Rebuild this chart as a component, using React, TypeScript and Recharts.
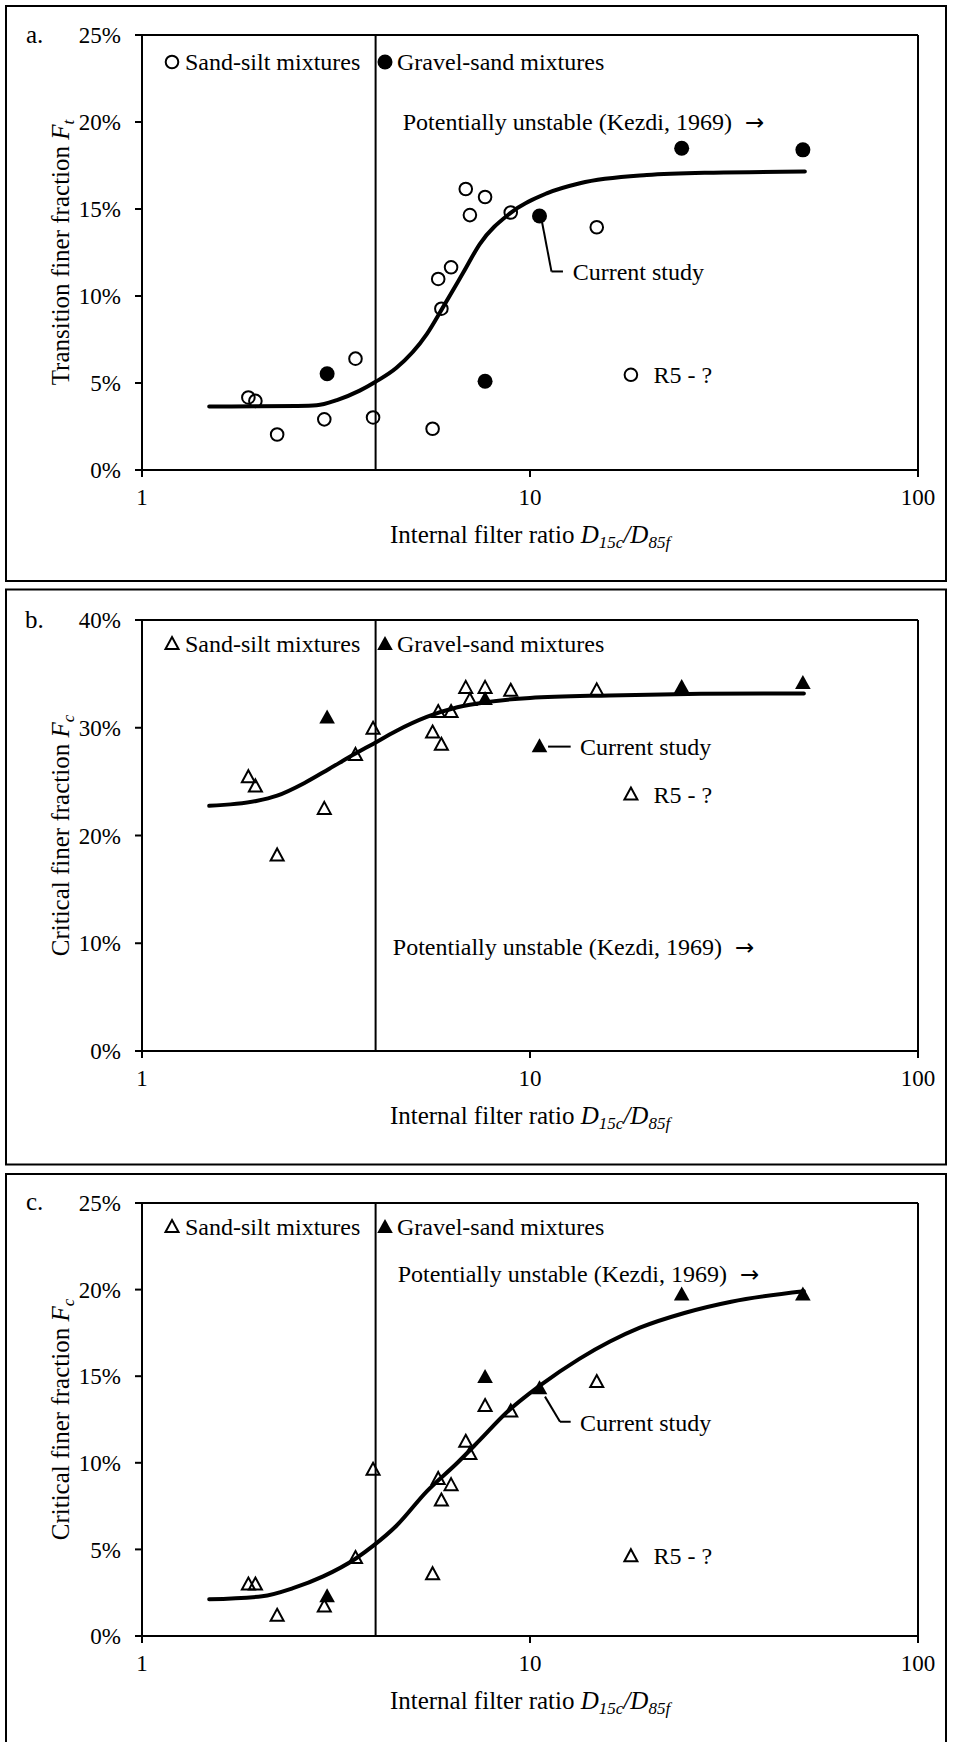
import type { ReactNode } from "react";
import {
  ComposedChart,
  Scatter,
  Line,
  XAxis,
  YAxis,
  ReferenceLine,
  ReferenceDot,
  Legend,
  Label,
} from "recharts";

const FONT = '"Liberation Serif", "Times New Roman", serif';

// internal filter ratio D15c/D85f of each sample
const sandSiltRatio = [1.88, 1.96, 2.23, 2.95, 3.55, 3.94, 5.61, 5.8, 5.91, 6.26, 6.83, 7.0, 7.66, 8.92, 14.86];
const gravelSandRatio = [3.0, 7.66, 10.58, 24.6, 50.5];
const r5Ratio = [18.2];
const kezdiRatio = 4;
const xTicks = [1, 10, 100];

// a. transition finer fraction Ft (%)
const sandSiltFt = [4.17, 3.97, 2.04, 2.91, 6.4, 3.02, 2.37, 10.98, 9.27, 11.65, 16.15, 14.65, 15.69, 14.8, 13.95];
const gravelSandFt = [5.53, 5.1, 14.6, 18.49, 18.4];
const r5Ft = [5.47];
const fitRatioA = [1.49, 2.0, 2.5, 2.82, 3.18, 3.64, 4.0, 4.52, 5.42, 5.98, 6.73, 7.43, 8.88, 11.04, 13.45, 20.0, 29.7, 51.1];
const fitFt = [3.65, 3.66, 3.68, 3.72, 4.02, 4.56, 5.07, 5.86, 7.81, 9.39, 11.35, 13.0, 14.75, 15.9, 16.48, 16.95, 17.09, 17.15];

// b. critical finer fraction Fc (%)
const sandSiltFcB = [25.41, 24.55, 18.15, 22.47, 27.48, 29.9, 29.56, 31.46, 28.42, 31.46, 33.7, 32.57, 33.7, 33.43, 33.47];
const gravelSandFcB = [30.94, 32.67, 28.28, 33.78, 34.16];
const r5FcB = [23.8];
const fitRatioB = [1.49, 1.97, 2.23, 2.63, 3.04, 3.55, 3.94, 4.52, 5.42, 6.5, 7.8, 10.0, 16.0, 27.6, 50.8];
const fitFcB = [22.75, 23.2, 23.7, 24.9, 26.2, 27.6, 28.5, 29.7, 31.0, 31.9, 32.4, 32.77, 33.0, 33.15, 33.19];

// c. critical finer fraction Fc (%)
const sandSiltFcC = [2.97, 2.97, 1.17, 1.7, 4.5, 9.6, 3.57, 9.07, 7.82, 8.71, 11.21, 10.51, 13.28, 12.96, 14.66];
const gravelSandFcC = [2.29, 14.95, 14.3, 19.71, 19.71];
const r5FcC = [4.61];
const fitRatioC = [1.49, 2.04, 2.45, 2.93, 3.55, 3.94, 4.52, 5.42, 6.5, 7.43, 8.7, 10.6, 13.4, 16.07, 19.2, 25.0, 33.0, 50.8];
const fitFcC = [2.12, 2.29, 2.76, 3.44, 4.46, 5.2, 6.35, 8.35, 10.0, 11.32, 12.9, 14.45, 16.0, 17.0, 17.8, 18.65, 19.3, 19.9];

type Pt = { x: number; y: number };
const pairs = (xs: number[], ys: number[]): Pt[] => xs.map((x, i) => ({ x, y: ys[i] }));

type Kind = "circle" | "triangle";

function Marker({ cx, cy, kind, filled }: { cx: number; cy: number; kind: Kind; filled?: boolean }) {
  if (kind === "circle") {
    return filled ? (
      <circle cx={cx} cy={cy} r={7.5} fill="#000" />
    ) : (
      <circle cx={cx} cy={cy} r={6.3} fill="none" stroke="#000" strokeWidth={2} />
    );
  }
  if (filled) {
    return <path d={`M${cx},${cy - 8}L${cx + 7.8},${cy + 6}L${cx - 7.8},${cy + 6}Z`} fill="#000" />;
  }
  return (
    <path
      d={`M${cx},${cy - 7}L${cx + 6.5},${cy + 5}L${cx - 6.5},${cy + 5}Z`}
      fill="none"
      stroke="#000"
      strokeWidth={2}
    />
  );
}

const note = (content: ReactNode, dx = 0) => (props: any) => {
  const vb = props.viewBox ?? { x: 0, y: 0 };
  return (
    <text x={vb.x + dx} y={vb.y} dominantBaseline="central" fontFamily={FONT} fontSize={24} fill="#000">
      {content}
    </text>
  );
};

const kezdiNote = (
  <>
    Potentially unstable (Kezdi, 1969)
    <tspan dx={13} fontFamily='"DejaVu Sans", sans-serif' fontSize={23}>
      {"\u2192"}
    </tspan>
  </>
);

const yTitle = (main: string, sub: string) => (props: any) => {
  const vb = props.viewBox ?? { y: 0, height: 0 };
  const cx = 69;
  const cy = vb.y + vb.height / 2;
  return (
    <text
      x={cx}
      y={cy}
      transform={`rotate(-90 ${cx} ${cy})`}
      textAnchor="middle"
      fontFamily={FONT}
      fontSize={25}
      fill="#000"
    >
      {main}
      <tspan fontStyle="italic">F</tspan>
      <tspan fontStyle="italic" fontSize={17} dy={5}>
        {sub}
      </tspan>
    </text>
  );
};

const xTitle = (props: any) => {
  const vb = props.viewBox ?? { x: 0, y: 0, width: 0 };
  return (
    <text x={vb.x + vb.width / 2} y={vb.y + 73} textAnchor="middle" fontFamily={FONT} fontSize={25} fill="#000">
      Internal filter ratio <tspan fontStyle="italic">D</tspan>
      <tspan fontStyle="italic" fontSize={17} dy={5}>
        15c
      </tspan>
      <tspan fontStyle="italic" dy={-5}>
        /D
      </tspan>
      <tspan fontStyle="italic" fontSize={17} dy={5}>
        85f
      </tspan>
    </text>
  );
};

type PanelProps = {
  top: number;
  marginTop: number;
  plotHeight: number;
  yMax: number;
  yTicks: number[];
  yLabel: [string, string];
  kind: Kind;
  sandSilt: Pt[];
  gravelSand: Pt[];
  r5: Pt[];
  fit: Pt[];
  legendTop: number;
  kezdiAt: Pt;
  leader: Pt[];
  studyAt: Pt;
};

function Panel(p: PanelProps) {
  const height = 578;
  const xAxisHeight = height - p.marginTop - p.plotHeight;
  const legend = () => (
    <div
      style={{
        position: "relative",
        width: 460,
        height: 30,
        fontFamily: FONT,
        fontSize: 24,
        lineHeight: "30px",
        color: "#000",
      }}
    >
      <svg width={20} height={30} style={{ position: "absolute", left: 0, top: 0 }}>
        <Marker cx={9} cy={15} kind={p.kind} />
      </svg>
      <span style={{ position: "absolute", left: 22, top: 0, whiteSpace: "nowrap" }}>Sand-silt mixtures</span>
      <svg width={20} height={30} style={{ position: "absolute", left: 213, top: 0 }}>
        <Marker cx={9} cy={15} kind={p.kind} filled />
      </svg>
      <span style={{ position: "absolute", left: 234, top: 0, whiteSpace: "nowrap" }}>Gravel-sand mixtures</span>
    </div>
  );

  const segments = p.leader.slice(1).map((pt, i) => [p.leader[i], pt]);

  return (
    <div style={{ position: "absolute", left: 0, top: p.top }}>
      <ComposedChart width={956} height={height} margin={{ top: p.marginTop, right: 38, bottom: 0, left: 0 }}>
        <XAxis
          dataKey="x"
          type="number"
          scale="log"
          domain={[1, 100]}
          ticks={xTicks}
          interval={0}
          allowDataOverflow
          height={xAxisHeight}
          axisLine={{ stroke: "#000", strokeWidth: 2 }}
          tickLine={{ stroke: "#000", strokeWidth: 2 }}
          tickSize={7}
          tickMargin={12}
          tick={{ fill: "#000", fontFamily: FONT, fontSize: 23 }}
        >
          <Label content={xTitle} />
        </XAxis>
        <YAxis
          type="number"
          domain={[0, p.yMax]}
          ticks={p.yTicks}
          interval={0}
          width={142}
          tickFormatter={(v: number) => `${v}%`}
          axisLine={{ stroke: "#000", strokeWidth: 2 }}
          tickLine={{ stroke: "#000", strokeWidth: 2 }}
          tickSize={7}
          tickMargin={14}
          tick={{ fill: "#000", fontFamily: FONT, fontSize: 23 }}
        >
          <Label content={yTitle(p.yLabel[0], p.yLabel[1])} />
        </YAxis>
        <ReferenceLine y={p.yMax} stroke="#000" strokeWidth={2} ifOverflow="visible" />
        <ReferenceLine x={100} stroke="#000" strokeWidth={2} ifOverflow="visible" />
        <ReferenceLine x={kezdiRatio} stroke="#000" strokeWidth={2} />
        {segments.map((s, i) => (
          <ReferenceLine key={i} segment={s} stroke="#000" strokeWidth={2} ifOverflow="visible" />
        ))}
        <ReferenceDot x={p.kezdiAt.x} y={p.kezdiAt.y} r={0} fill="none" stroke="none" label={note(kezdiNote)} />
        <ReferenceDot x={p.studyAt.x} y={p.studyAt.y} r={0} fill="none" stroke="none" label={note("Current study")} />
        <ReferenceDot x={p.r5[0].x} y={p.r5[0].y} r={0} fill="none" stroke="none" label={note("R5 - ?", 22.5)} />
        <Line
          data={p.fit}
          dataKey="y"
          type="monotone"
          stroke="#000"
          strokeWidth={4}
          strokeLinecap="round"
          dot={false}
          activeDot={false}
          isAnimationActive={false}
          legendType="none"
        />
        <Scatter
          data={p.sandSilt}
          dataKey="y"
          isAnimationActive={false}
          shape={(s: any) => <Marker cx={s.cx} cy={s.cy} kind={p.kind} />}
        />
        <Scatter
          data={p.r5}
          dataKey="y"
          isAnimationActive={false}
          shape={(s: any) => <Marker cx={s.cx} cy={s.cy} kind={p.kind} />}
        />
        <Scatter
          data={p.gravelSand}
          dataKey="y"
          isAnimationActive={false}
          shape={(s: any) => <Marker cx={s.cx} cy={s.cy} kind={p.kind} filled />}
        />
        <Legend
          layout="horizontal"
          verticalAlign="middle"
          align="center"
          wrapperStyle={{ top: p.legendTop, left: 163, width: 460, height: 30 }}
          content={legend}
        />
      </ComposedChart>
    </div>
  );
}

export default function App() {
  return (
    <div
      style={{
        position: "absolute",
        left: 0,
        top: 0,
        width: 956,
        height: 1742,
        background: "#fff",
        overflow: "hidden",
      }}
    >
      <svg width={956} height={1742} style={{ position: "absolute", left: 0, top: 0 }}>
        <rect x={6} y={6} width={940} height={575} fill="none" stroke="#000" strokeWidth={2} />
        <rect x={6} y={589.5} width={940} height={575} fill="none" stroke="#000" strokeWidth={2} />
        <rect x={6} y={1174} width={940} height={600} fill="none" stroke="#000" strokeWidth={2} />
        <g fontFamily={FONT} fontSize={25} fill="#000">
          <text x={26} y={43}>a.</text>
          <text x={25} y={628}>b.</text>
          <text x={26} y={1210}>c.</text>
        </g>
      </svg>

      <Panel
        top={5}
        marginTop={30}
        plotHeight={435}
        yMax={25}
        yTicks={[0, 5, 10, 15, 20, 25]}
        yLabel={["Transition finer fraction ", "t"]}
        kind="circle"
        sandSilt={pairs(sandSiltRatio, sandSiltFt)}
        gravelSand={pairs(gravelSandRatio, gravelSandFt)}
        r5={pairs(r5Ratio, r5Ft)}
        fit={pairs(fitRatioA, fitFt)}
        legendTop={42}
        kezdiAt={{ x: 4.7, y: 20.0 }}
        leader={[
          { x: 10.74, y: 14.25 },
          { x: 11.36, y: 11.41 },
          { x: 12.16, y: 11.41 },
        ]}
        studyAt={{ x: 12.88, y: 11.38 }}
      />
      <Panel
        top={588}
        marginTop={32}
        plotHeight={431}
        yMax={40}
        yTicks={[0, 10, 20, 30, 40]}
        yLabel={["Critical finer fraction ", "c"]}
        kind="triangle"
        sandSilt={pairs(sandSiltRatio, sandSiltFcB)}
        gravelSand={pairs(gravelSandRatio, gravelSandFcB)}
        r5={pairs(r5Ratio, r5FcB)}
        fit={pairs(fitRatioB, fitFcB)}
        legendTop={41}
        kezdiAt={{ x: 4.43, y: 9.68 }}
        leader={[
          { x: 11.13, y: 28.25 },
          { x: 12.73, y: 28.25 },
        ]}
        studyAt={{ x: 13.45, y: 28.25 }}
      />
      <Panel
        top={1173}
        marginTop={30}
        plotHeight={433}
        yMax={25}
        yTicks={[0, 5, 10, 15, 20, 25]}
        yLabel={["Critical finer fraction ", "c"]}
        kind="triangle"
        sandSilt={pairs(sandSiltRatio, sandSiltFcC)}
        gravelSand={pairs(gravelSandRatio, gravelSandFcC)}
        r5={pairs(r5Ratio, r5FcC)}
        fit={pairs(fitRatioC, fitFcC)}
        legendTop={39}
        kezdiAt={{ x: 4.56, y: 20.88 }}
        leader={[
          { x: 10.93, y: 13.82 },
          { x: 11.95, y: 12.37 },
          { x: 12.73, y: 12.37 },
        ]}
        studyAt={{ x: 13.45, y: 12.3 }}
      />
    </div>
  );
}
